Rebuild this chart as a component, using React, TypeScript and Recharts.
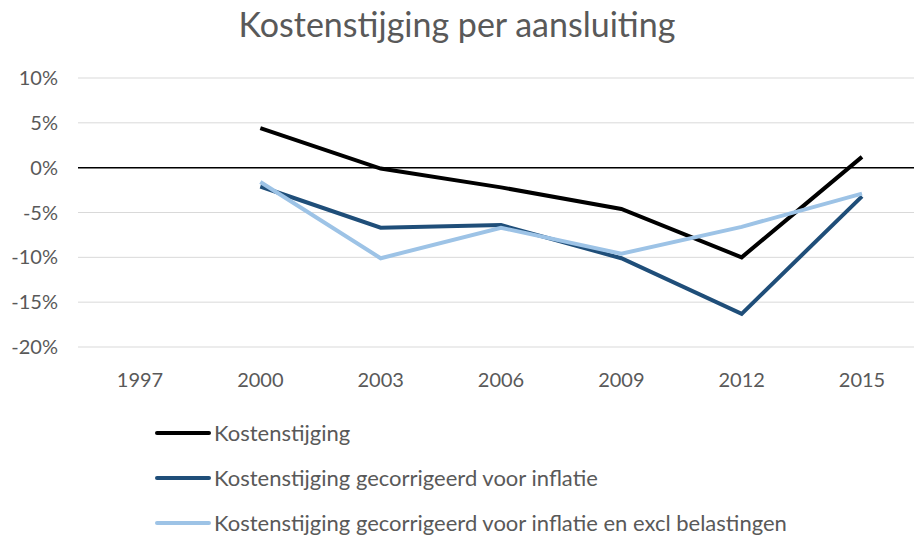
import React from "react";
import {
  LineChart,
  Line,
  XAxis,
  YAxis,
  CartesianGrid,
  ReferenceLine,
  Legend,
} from "recharts";

const years = ["1997", "2000", "2003", "2006", "2009", "2012", "2015"];
const kosten = [null, 4.4, -0.1, -2.2, -4.6, -10.0, 1.2];
const inflatie = [null, -2.1, -6.7, -6.4, -10.1, -16.3, -3.2];
const exclBelasting = [null, -1.6, -10.1, -6.7, -9.6, -6.6, -2.9];
const yTicks = [-20, -15, -10, -5, 0, 5, 10];

const seriesNames = [
  "Kostenstijging",
  "Kostenstijging gecorrigeerd voor inflatie",
  "Kostenstijging gecorrigeerd voor inflatie en excl belastingen",
];
const seriesColors = ["#000000", "#1F4E79", "#9DC3E6"];

const data = years.map((year, i) => ({
  year,
  kosten: kosten[i],
  inflatie: inflatie[i],
  excl: exclBelasting[i],
}));

const FONT = "Lato, 'Open Sans', sans-serif";
const TEXT = "#595959";

const LegendList = (props: any) => {
  const items = props.payload || [];
  return (
    <div style={{ fontFamily: FONT, fontSize: 22, color: TEXT }}>
      {items.map((entry: any, index: number) => (
        <div
          key={index}
          style={{ display: "flex", alignItems: "center", height: 45 }}
        >
          <span
            style={{
              display: "inline-block",
              width: 56,
              height: 4,
              borderRadius: 2,
              backgroundColor: entry.color,
              marginRight: 3,
            }}
          />
          <span>{entry.value}</span>
        </div>
      ))}
    </div>
  );
};

const App: React.FC = () => {
  return (
    <div
      style={{
        position: "absolute",
        left: 0,
        top: 0,
        width: 914,
        height: 536,
        background: "#ffffff",
      }}
    >
      <div
        style={{
          position: "absolute",
          left: 0,
          top: 3,
          width: 914,
          textAlign: "center",
          fontFamily: FONT,
          fontSize: 34,
          color: TEXT,
        }}
      >
        Kostenstijging per aansluiting
      </div>
      <LineChart
        width={914}
        height={536}
        data={data}
        margin={{ top: 78, right: 0, bottom: 159, left: 0 }}
      >
        <CartesianGrid vertical={false} stroke="#D9D9D9" strokeWidth={1} />
        <XAxis
          dataKey="year"
          axisLine={false}
          tickLine={false}
          tickSize={0}
          tickMargin={26}
          height={30}
          padding={{ left: 62, right: 52 }}
          tick={{ fill: TEXT, fontSize: 20, fontFamily: FONT }}
        />
        <YAxis
          domain={[-20, 10]}
          ticks={yTicks}
          width={78}
          axisLine={false}
          tickLine={false}
          tickSize={0}
          tickMargin={20}
          tickFormatter={(v: number) => `${v}%`}
          tick={{ fill: TEXT, fontSize: 20, fontFamily: FONT }}
        />
        <ReferenceLine y={0} stroke="#000000" strokeWidth={1.5} />
        <Line
          dataKey="kosten"
          name={seriesNames[0]}
          stroke={seriesColors[0]}
          strokeWidth={4}
          dot={false}
          isAnimationActive={false}
        />
        <Line
          dataKey="inflatie"
          name={seriesNames[1]}
          stroke={seriesColors[1]}
          strokeWidth={4}
          dot={false}
          isAnimationActive={false}
        />
        <Line
          dataKey="excl"
          name={seriesNames[2]}
          stroke={seriesColors[2]}
          strokeWidth={4}
          dot={false}
          isAnimationActive={false}
        />
        <Legend
          layout="vertical"
          align="center"
          verticalAlign="middle"
          content={<LegendList />}
          wrapperStyle={{ top: 410, left: 155, width: 740 }}
        />
      </LineChart>
    </div>
  );
};

export default App;
